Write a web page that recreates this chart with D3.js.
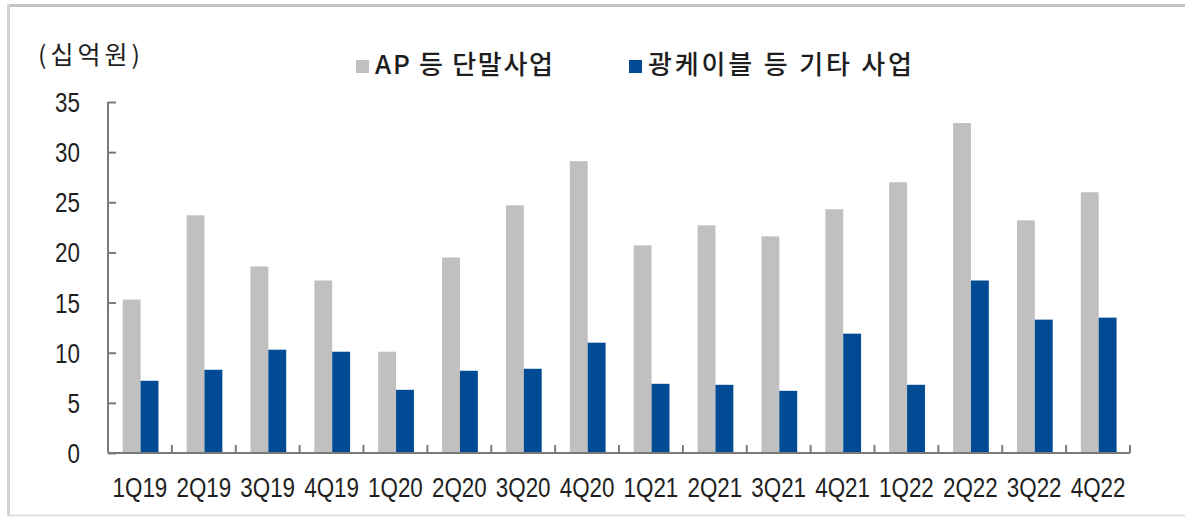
<!DOCTYPE html>
<html>
<head>
<meta charset="utf-8">
<script src="https://cdn.jsdelivr.net/npm/d3@7"></script>
<style>
  html, body { margin: 0; padding: 0; background: #fff; }
  svg { display: block; }
</style>
</head>
<body>
<svg id="chart" width="1185" height="518"></svg>
<script>
// Quarterly revenue by business (unit: 십억원)
const categories = ["1Q19","2Q19","3Q19","4Q19","1Q20","2Q20","3Q20","4Q20",
                    "1Q21","2Q21","3Q21","4Q21","1Q22","2Q22","3Q22","4Q22"];
const seriesNames = ["AP 등 단말사업", "광케이블 등 기타 사업"];
const terminalValues = [15.3, 23.7, 18.6, 17.2, 10.1, 19.5, 24.7, 29.1,
                        20.7, 22.7, 21.6, 24.3, 27.0, 32.9, 23.2, 26.0];
const otherValues    = [7.2, 8.3, 10.3, 10.1, 6.3, 8.2, 8.4, 11.0,
                        6.9, 6.8, 6.2, 11.9, 6.8, 17.2, 13.3, 13.5];
const yTicks = [0, 5, 10, 15, 20, 25, 30, 35];
const unitLabel = "(십억원)";

const colors = ["#c0c0c0", "#004b93"];
const seriesValues = [terminalValues, otherValues];

const svg = d3.select("#chart");
const W = 1185, H = 518;
const plot = { left: 108, right: 1130, top: 102, bottom: 453 };

// condensed sans for numbers: regular Liberation Sans squeezed horizontally
const numFont = "'Liberation Sans', Arial, sans-serif";
const narrow = 0.8;
const krFont = "'Noto Sans CJK KR', 'Noto Sans', sans-serif";
const textColor = "#1e1e1e";
const axisColor = "#7a7a7a";

// outer frame
svg.append("line").attr("x1", 7).attr("x2", W).attr("y1", 5.5).attr("y2", 5.5)
  .attr("stroke", "#c4c4c4").attr("stroke-width", 3);
svg.append("line").attr("x1", 8.5).attr("x2", 8.5).attr("y1", 4).attr("y2", 516)
  .attr("stroke", "#d2d2d2").attr("stroke-width", 3);
svg.append("line").attr("x1", 7).attr("x2", W).attr("y1", 515.5).attr("y2", 515.5)
  .attr("stroke", "#e2e2e2").attr("stroke-width", 2);

// scales
const x0 = d3.scaleBand().domain(categories).range([plot.left, plot.right]).padding(0);
const bw = x0.bandwidth();
const x1 = d3.scaleBand().domain(seriesNames).range([bw * 0.23, bw * 0.79]).padding(0);
const y = d3.scaleLinear().domain([0, 35]).range([plot.bottom, plot.top]);

// bars
const groups = svg.append("g").selectAll("g")
  .data(categories)
  .join("g")
  .attr("transform", d => `translate(${x0(d)},0)`);

groups.selectAll("rect")
  .data((c, i) => seriesNames.map((s, k) => ({ s, k, v: seriesValues[k][i] })))
  .join("rect")
  .attr("x", d => x1(d.s))
  .attr("width", x1.bandwidth())
  .attr("y", d => y(d.v))
  .attr("height", d => y(0) - y(d.v))
  .attr("fill", d => colors[d.k]);

// y axis (ticks pointing inward)
const yAxis = d3.axisRight(y).tickValues(yTicks).tickSize(8).tickFormat("");
const gy = svg.append("g").attr("transform", `translate(${plot.left},0)`).call(yAxis);
gy.select(".domain").attr("stroke", axisColor).attr("stroke-width", 2).attr("d", `M0,${plot.top}V${plot.bottom}`);
gy.selectAll(".tick line").attr("stroke", axisColor).attr("stroke-width", 2);

svg.append("g").selectAll("text")
  .data(yTicks)
  .join("text")
  .attr("transform", d => `translate(80,${y(d) + 10}) scale(${narrow},1)`)
  .attr("text-anchor", "end")
  .attr("font-family", numFont)
  .attr("font-size", 28)
  .attr("fill", textColor)
  .text(d => d);

// x axis with boundary ticks pointing up
const gx = svg.append("g");
gx.append("line")
  .attr("x1", plot.left).attr("x2", plot.right)
  .attr("y1", plot.bottom).attr("y2", plot.bottom)
  .attr("stroke", axisColor).attr("stroke-width", 2);
const boundaries = categories.map(c => x0(c)).concat([plot.right]);
gx.selectAll("line.tk")
  .data(boundaries)
  .join("line")
  .attr("class", "tk")
  .attr("x1", d => d).attr("x2", d => d)
  .attr("y1", plot.bottom).attr("y2", plot.bottom - 8)
  .attr("stroke", axisColor).attr("stroke-width", 2);

svg.append("g").selectAll("text")
  .data(categories)
  .join("text")
  .attr("transform", d => `translate(${x0(d) + bw / 2},497) scale(${narrow},1)`)
  .attr("text-anchor", "middle")
  .attr("font-family", numFont)
  .attr("font-size", 28)
  .attr("fill", textColor)
  .text(d => d);

// unit label
svg.append("text")
  .attr("x", 38).attr("y", 64)
  .attr("font-family", krFont)
  .attr("font-size", 25)
  .attr("textLength", 102)
  .attr("lengthAdjust", "spacing")
  .attr("fill", textColor)
  .text(unitLabel);

// legend
const legendItems = [
  { name: seriesNames[0], color: colors[0], sx: 356, tx: 375, len: 178 },
  { name: seriesNames[1], color: colors[1], sx: 629, tx: 648, len: 264 }
];
const lg = svg.append("g").selectAll("g").data(legendItems).join("g");
lg.append("rect")
  .attr("x", d => d.sx).attr("y", 60)
  .attr("width", 13).attr("height", 13)
  .attr("fill", d => d.color);
lg.append("text")
  .attr("x", d => d.tx).attr("y", 74)
  .attr("font-family", krFont)
  .attr("font-size", 26)
  .attr("font-weight", 500)
  .attr("textLength", d => d.len)
  .attr("lengthAdjust", "spacing")
  .attr("fill", textColor)
  .text(d => d.name);
</script>
</body>
</html>
